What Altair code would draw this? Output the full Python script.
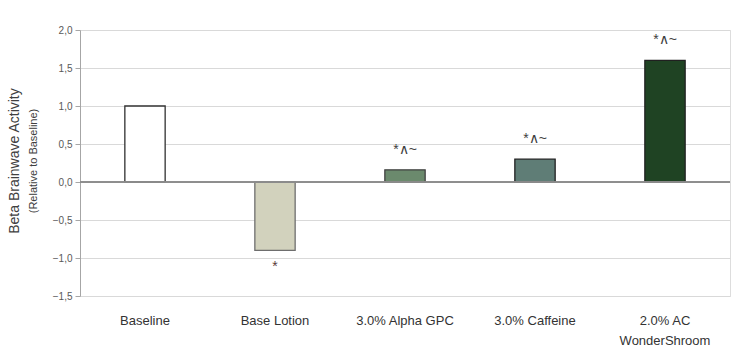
import altair as alt
import pandas as pd

categories = ["Baseline", "Base Lotion", "3.0% Alpha GPC", "3.0% Caffeine", "2.0% AC WonderShroom"]
values = [1.0, -0.9, 0.16, 0.30, 1.6]
annotations = ["", "*", "*∧~", "*∧~", "*∧~"]
fills = ["#ffffff", "#d2d2bd", "#6b8a6d", "#5f7d76", "#1f4323"]
strokes = ["#303030", "#6e6e6e", "#404040", "#202020", "#202020"]

df = pd.DataFrame({
    "cat": categories,
    "value": values,
    "ann": annotations,
    "fill": fills,
    "stroke": strokes,
})

FONT = "Liberation Sans"
TICKS = [-1.5, -1.0, -0.5, 0.0, 0.5, 1.0, 1.5, 2.0]

x = alt.X(
    "cat:N",
    sort=categories,
    scale=alt.Scale(paddingInner=0.69, paddingOuter=0.345),
    axis=alt.Axis(
        title=None, domain=False, ticks=False, labelAngle=0,
        labelFont=FONT, labelFontSize=13, labelColor="#333333",
        labelPadding=18, labelLineHeight=20,
        labelExpr="datum.label == '2.0% AC WonderShroom' ? ['2.0% AC', 'WonderShroom'] : datum.label",
    ),
)
y = alt.Y(
    "value:Q",
    scale=alt.Scale(domain=[-1.5, 2.0], nice=False, zero=False),
    axis=alt.Axis(
        title=None, values=TICKS, labelOverlap=False, tickCount=8,
        labelExpr="replace(format(datum.value, '.1f'), '.', ',')",
        labelFont=FONT, labelFontSize=10, labelColor="#595959",
        domain=True, domainColor="#a6a6a6", tickColor="#a6a6a6", tickSize=5,
        grid=True, gridColor="#d9d9d9", labelPadding=3,
    ),
)

base = alt.Chart(df)

bars = base.mark_bar(strokeWidth=1.3).encode(
    x=x, y=y, y2=alt.datum(0),
    fill=alt.Fill("fill:N", scale=None),
    stroke=alt.Stroke("stroke:N", scale=None),
)

zero = base.mark_rule(color="#8c8c8c", strokeWidth=1.2).encode(
    y=alt.datum(0)
)

pos_text = base.transform_filter("datum.value >= 0").mark_text(
    font=FONT, fontSize=14, color="#404040", baseline="middle", dy=-20
).encode(x=x, y=y, text="ann:N")

neg_text = base.transform_filter("datum.value < 0").mark_text(
    font=FONT, fontSize=14, color="#5a3a3a", baseline="middle", dy=17
).encode(x=x, y=y, text="ann:N")

title1 = alt.Chart(pd.DataFrame({"t": ["Beta Brainwave Activity"]})).mark_text(
    font=FONT, fontSize=14, color="#404040", angle=270, baseline="middle", align="center"
).encode(x=alt.value(-65), y=alt.value(131), text="t:N")

title2 = alt.Chart(pd.DataFrame({"t": ["(Relative to Baseline)"]})).mark_text(
    font=FONT, fontSize=11, color="#404040", angle=270, baseline="middle", align="center"
).encode(x=alt.value(-46), y=alt.value(131), text="t:N")

chart = alt.layer(bars, zero, pos_text, neg_text, title1, title2).properties(
    width=650, height=266,
    autosize=alt.AutoSizeParams(type="none"),
    padding={"left": 80, "top": 30, "right": 17, "bottom": 61},
).configure_view(stroke=None).configure(background="#ffffff")

chart.save("out.html", embed_options={"renderer": "svg", "actions": False})
